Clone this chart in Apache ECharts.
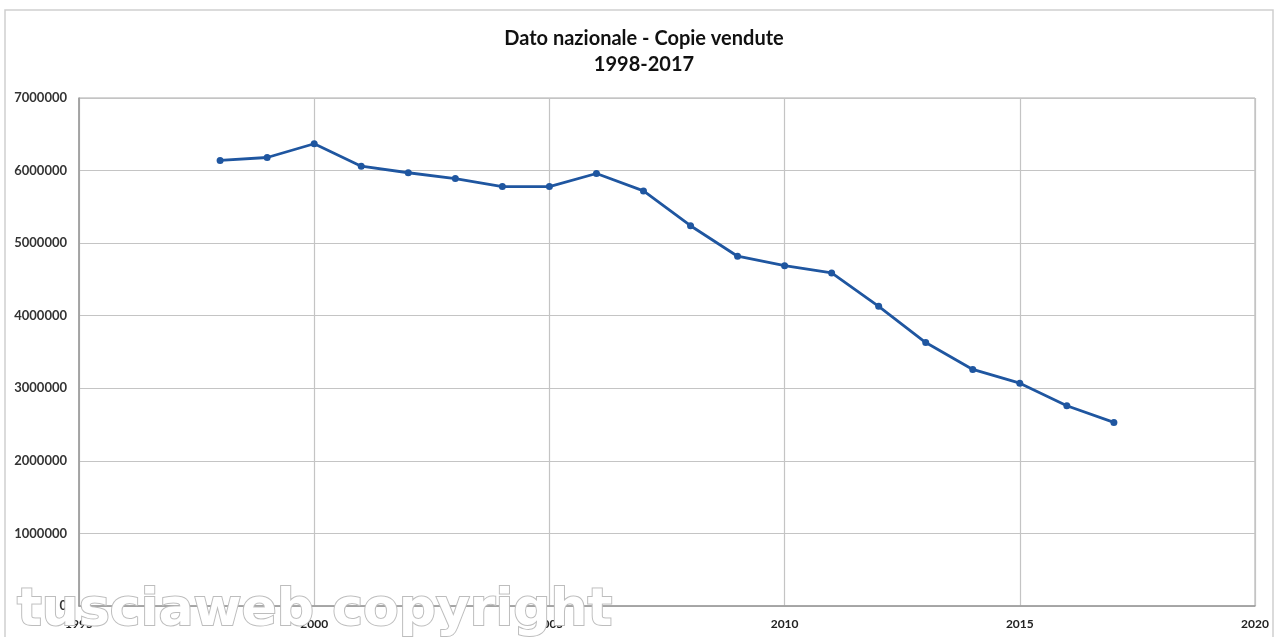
<!DOCTYPE html>
<html>
<head>
<meta charset="utf-8">
<script src="https://cdn.jsdelivr.net/npm/echarts@6/dist/echarts.min.js"></script>
<style>
  html, body { margin: 0; padding: 0; background: #fff; }
  #chart { width: 1288px; height: 637px; }
</style>
</head>
<body>
<div id="chart"></div>
<script>
// anni e copie vendute
const years = [1998, 1999, 2000, 2001, 2002, 2003, 2004, 2005, 2006, 2007,
               2008, 2009, 2010, 2011, 2012, 2013, 2014, 2015, 2016, 2017];
const copies = [6140000, 6180000, 6370000, 6060000, 5970000, 5890000, 5780000, 5780000, 5960000, 5720000,
                5240000, 4820000, 4690000, 4590000, 4130000, 3630000, 3260000, 3070000, 2760000, 2530000];
const titleLines = ['Dato nazionale - Copie vendute', '1998-2017'];
const watermark = 'tusciaweb copyright';

const chart = echarts.init(document.getElementById('chart'));

const option = {
  animation: false,
  backgroundColor: '#fff',
  title: {
    text: titleLines.join('\n'),
    left: 'center',
    top: 21,
    textStyle: {
      fontFamily: 'Lato',
      fontWeight: 'bold',
      fontSize: 20,
      lineHeight: 26,
      color: '#111'
    }
  },
  grid: {
    left: 79,
    right: 33,
    top: 98,
    bottom: 31,
    show: true,
    borderColor: '#aaa',
    borderWidth: 1
  },
  xAxis: {
    type: 'value',
    min: 1995,
    max: 2020,
    interval: 5,
    axisLine: { show: true, lineStyle: { color: '#999', width: 1.5 } },
    axisTick: { show: false },
    splitLine: { show: true, lineStyle: { color: '#c4c4c4', width: 1.2 } },
    axisLabel: {
      formatter: v => String(v),
      color: '#222',
      fontFamily: 'Lato',
      fontWeight: 'bold',
      fontSize: 12,
      margin: 12
    }
  },
  yAxis: {
    type: 'value',
    min: 0,
    max: 7000000,
    interval: 1000000,
    axisLine: { show: true, lineStyle: { color: '#999', width: 1.5 } },
    axisTick: { show: false },
    splitLine: { show: true, lineStyle: { color: '#c4c4c4', width: 1.2 } },
    axisLabel: {
      formatter: v => String(v),
      color: '#333',
      fontFamily: 'Lato',
      fontWeight: 'bold',
      fontSize: 13,
      margin: 12
    }
  },
  series: [
    {
      name: 'Copie vendute',
      type: 'line',
      data: years.map((y, i) => [y, copies[i]]),
      symbol: 'circle',
      symbolSize: 7,
      lineStyle: { color: '#1f56a0', width: 2.8 },
      itemStyle: { color: '#1f56a0' }
    }
  ],
  graphic: [
    {
      type: 'rect',
      shape: { x: 5, y: 10, width: 1268, height: 640 },
      style: { fill: 'none', stroke: '#cfcfcf', lineWidth: 1.5 },
      silent: true,
      z: 100
    },
    {
      type: 'text',
      left: 16,
      top: 584,
      style: {
        text: watermark,
        fontFamily: 'DejaVu Sans',
        fontWeight: 'bold',
        fontSize: 52,
        fill: '#ffffff',
        stroke: '#bdbdbd',
        lineWidth: 2,
        shadowColor: 'rgba(0,0,0,0.5)',
        shadowBlur: 5,
        shadowOffsetX: 2,
        shadowOffsetY: 3
      },
      silent: true,
      z: 200
    }
  ]
};

chart.setOption(option);
</script>
</body>
</html>
